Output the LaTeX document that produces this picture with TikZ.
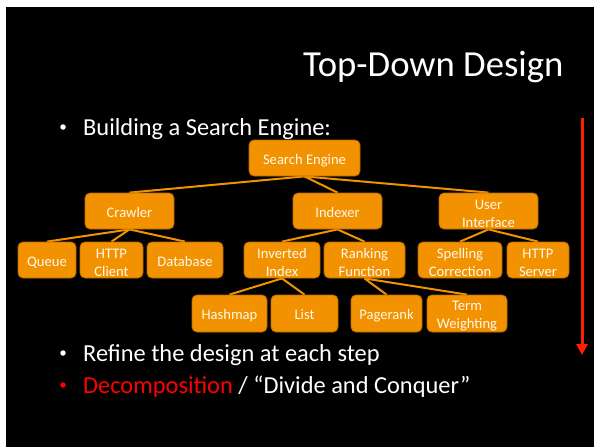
\documentclass[tikz,border=0pt]{standalone}
\usepackage{fontspec}
\setmainfont{Carlito}
\usetikzlibrary{arrows.meta,backgrounds}
\definecolor{boxfill}{RGB}{243,146,0}
\definecolor{boxedge}{RGB}{185,105,0}
\definecolor{boxtext}{RGB}{255,248,235}
\definecolor{arrowred}{RGB}{255,30,0}
\newcommand{\toppad}{\rule{0pt}{14.5pt}}
\pgfdeclarelayer{back}
\pgfsetlayers{back,background,main}
\begin{document}
\begin{tikzpicture}[x=1pt,y=-1pt,
  box/.style={draw=boxedge, line width=0.8pt, fill=boxfill, rounded corners=5pt,
    text=boxtext, align=center, inner sep=0pt, minimum height=36pt,
    font=\fontsize{14.6}{18}\selectfont},
  one/.style={box, text height=12pt, text depth=0pt},
  link/.style={draw=boxfill, line width=2pt},
  slide/.style={text=white, inner sep=0pt, anchor=base west},
  bigtext/.style={font=\fontsize{24.4}{29}\selectfont},
  bul/.style={circle, inner sep=0pt, minimum size=5.5pt}]
\useasboundingbox (0,0) rectangle (594,447);
\begin{pgfonlayer}{back}
  \fill[white] (0,0) rectangle (594,447);
  \fill[black] (6,7) rectangle (594,447);
\end{pgfonlayer}

% texts
\node[slide, font=\fontsize{36.7}{44}\selectfont] (title) at (303,76) {Top-Down Design};
\node[bul, fill=white] (b1) at (63,127) {};
\node[slide, bigtext] (t1) at (83,135) {Building a Search Engine:};
\node[bul, fill=white] (b2) at (63,353) {};
\node[slide, bigtext] (t2) at (83,361) {Refine the design at each step};
\node[bul, fill=red] (b3) at (63,385) {};
\node[slide, bigtext] (t3) at (83,393) {\textcolor{red}{Decomposition} / “Divide and Conquer”};

% tree nodes
\node[one, minimum width=111pt] (se) at (304.5,158) {Search Engine};
\node[one, minimum width=89pt] (crawler) at (129.5,211) {Crawler};
\node[one, minimum width=89pt] (indexer) at (337.5,211) {Indexer};
\node[box, minimum width=99pt] (ui) at (488.5,211) {\toppad User\\Interface};
\node[one, minimum width=58pt] (queue) at (47,260) {Queue};
\node[box, minimum width=63pt] (hclient) at (111.5,260) {\toppad HTTP\\Client};
\node[one, minimum width=76pt] (db) at (185,260) {Database};
\node[box, minimum width=76pt] (inv) at (282,260) {\toppad Inverted\\Index};
\node[box, minimum width=81pt] (rank) at (364.5,260) {\toppad Ranking\\Function};
\node[box, minimum width=84pt] (spell) at (460,260) {\toppad Spelling\\Correction};
\node[box, minimum width=62pt] (hserver) at (538,260) {\toppad HTTP\\Server};
\node[one, minimum width=75pt, minimum height=37pt] (hash) at (229.5,313.5) {Hashmap};
\node[one, minimum width=67pt, minimum height=37pt] (list) at (304.5,313.5) {List};
\node[one, minimum width=71pt, minimum height=37pt] (page) at (386.5,313.5) {Pagerank};
\node[box, minimum width=80pt, minimum height=37pt] (term) at (467,313.5) {\toppad Term\\Weighting};

% connectors
\begin{pgfonlayer}{background}
  \draw[link] (se.south) -- (crawler.north);
  \draw[link] (se.south) -- (indexer.north);
  \draw[link] (se.south) -- (ui.north);
  \draw[link] (crawler.south) -- (queue.north);
  \draw[link] (crawler.south) -- (hclient.north);
  \draw[link] (crawler.south) -- (db.north);
  \draw[link] (indexer.south) -- (inv.north);
  \draw[link] (indexer.south) -- (rank.north);
  \draw[link] (ui.south) -- (spell.north);
  \draw[link] (ui.south) -- (hserver.north);
  \draw[link] (inv.south) -- (hash.north);
  \draw[link] (inv.south) -- (list.north);
  \draw[link] (rank.south) -- (page.north);
  \draw[link] (rank.south) -- (term.north);
\end{pgfonlayer}

% red arrow
\coordinate (atop) at (582,118);
\coordinate (abot) at (582,355);
\draw[arrowred, line width=3pt, -{Triangle[width=11pt,length=11pt]}] (atop) -- (abot);
\end{tikzpicture}
\end{document}
